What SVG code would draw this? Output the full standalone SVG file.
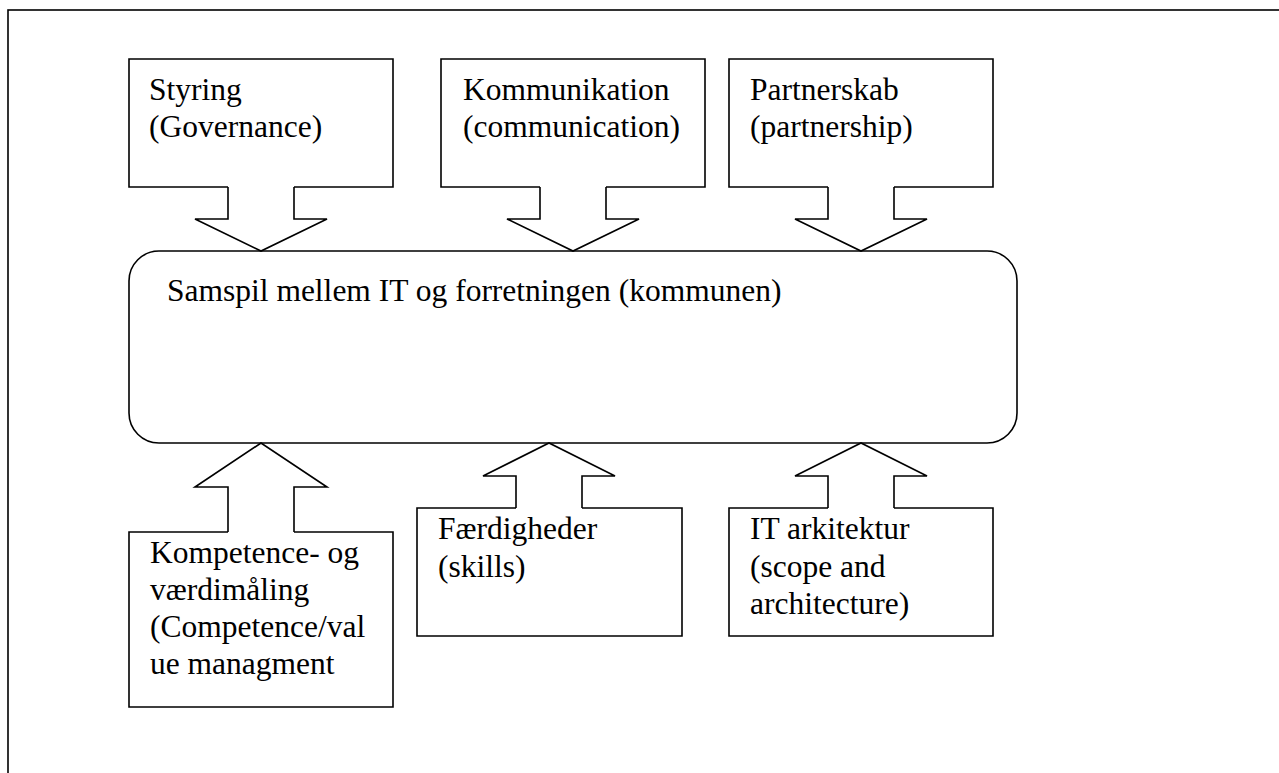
<svg xmlns="http://www.w3.org/2000/svg" width="1279" height="773" viewBox="0 0 1279 773">
<style>
.ln{fill:none;stroke:#000;stroke-width:1.6;stroke-linejoin:miter}
text{font-family:'Liberation Serif','Times New Roman',serif;font-size:31.5px;fill:#000}
</style>
<rect x="0" y="0" width="1279" height="773" fill="#fff"/>
<rect id="frame" class="ln" x="8" y="10" width="1320" height="820"/>
<g id="center">
<rect class="ln" x="129" y="251" width="888" height="192" rx="30" ry="30"/>
<text x="167" y="301">Samspil mellem IT og forretningen (kommunen)</text>
</g>
<g id="styring">
<path class="ln" d="M228,187 H129 V59 H393 V187 H294"/>
<text x="149" y="100">Styring</text>
<text x="149" y="137">(Governance)</text>
</g>
<g id="kommunikation">
<path class="ln" d="M540,187 H441 V59 H705 V187 H606"/>
<text x="463" y="100">Kommunikation</text>
<text x="463" y="137">(communication)</text>
</g>
<g id="partnerskab">
<path class="ln" d="M828,187 H729 V59 H993 V187 H894"/>
<text x="750" y="100">Partnerskab</text>
<text x="750" y="137">(partnership)</text>
</g>
<g id="kompetence">
<path class="ln" d="M228,532 H129 V707 H393 V532 H294"/>
<text x="150" y="563">Kompetence- og</text>
<text x="150" y="600">værdimåling</text>
<text x="150" y="637">(Competence/val</text>
<text x="150" y="674">ue managment</text>
</g>
<g id="faerdigheder">
<path class="ln" d="M516,508 H417 V636 H682 V508 H582"/>
<text x="438" y="539">Færdigheder</text>
<text x="438" y="577">(skills)</text>
</g>
<g id="itarkitektur">
<path class="ln" d="M828,508 H729 V636 H993 V508 H894"/>
<text x="750" y="539">IT arkitektur</text>
<text x="750" y="577">(scope and</text>
<text x="750" y="614">architecture)</text>
</g>
<g id="connectors">
<path class="ln" d="M228,187 V219 H195 L261,251 L327,219 H294 V187"/>
<path class="ln" d="M540,187 V219 H507 L573,251 L639,219 H606 V187"/>
<path class="ln" d="M828,187 V219 H795 L861,251 L927,219 H894 V187"/>
<path class="ln" d="M228,532 V487 H195 L261,443 L327,487 H294 V532"/>
<path class="ln" d="M516,508 V476 H483 L549,443 L615,476 H582 V508"/>
<path class="ln" d="M828,508 V476 H795 L861,443 L927,476 H894 V508"/>
</g>
</svg>
